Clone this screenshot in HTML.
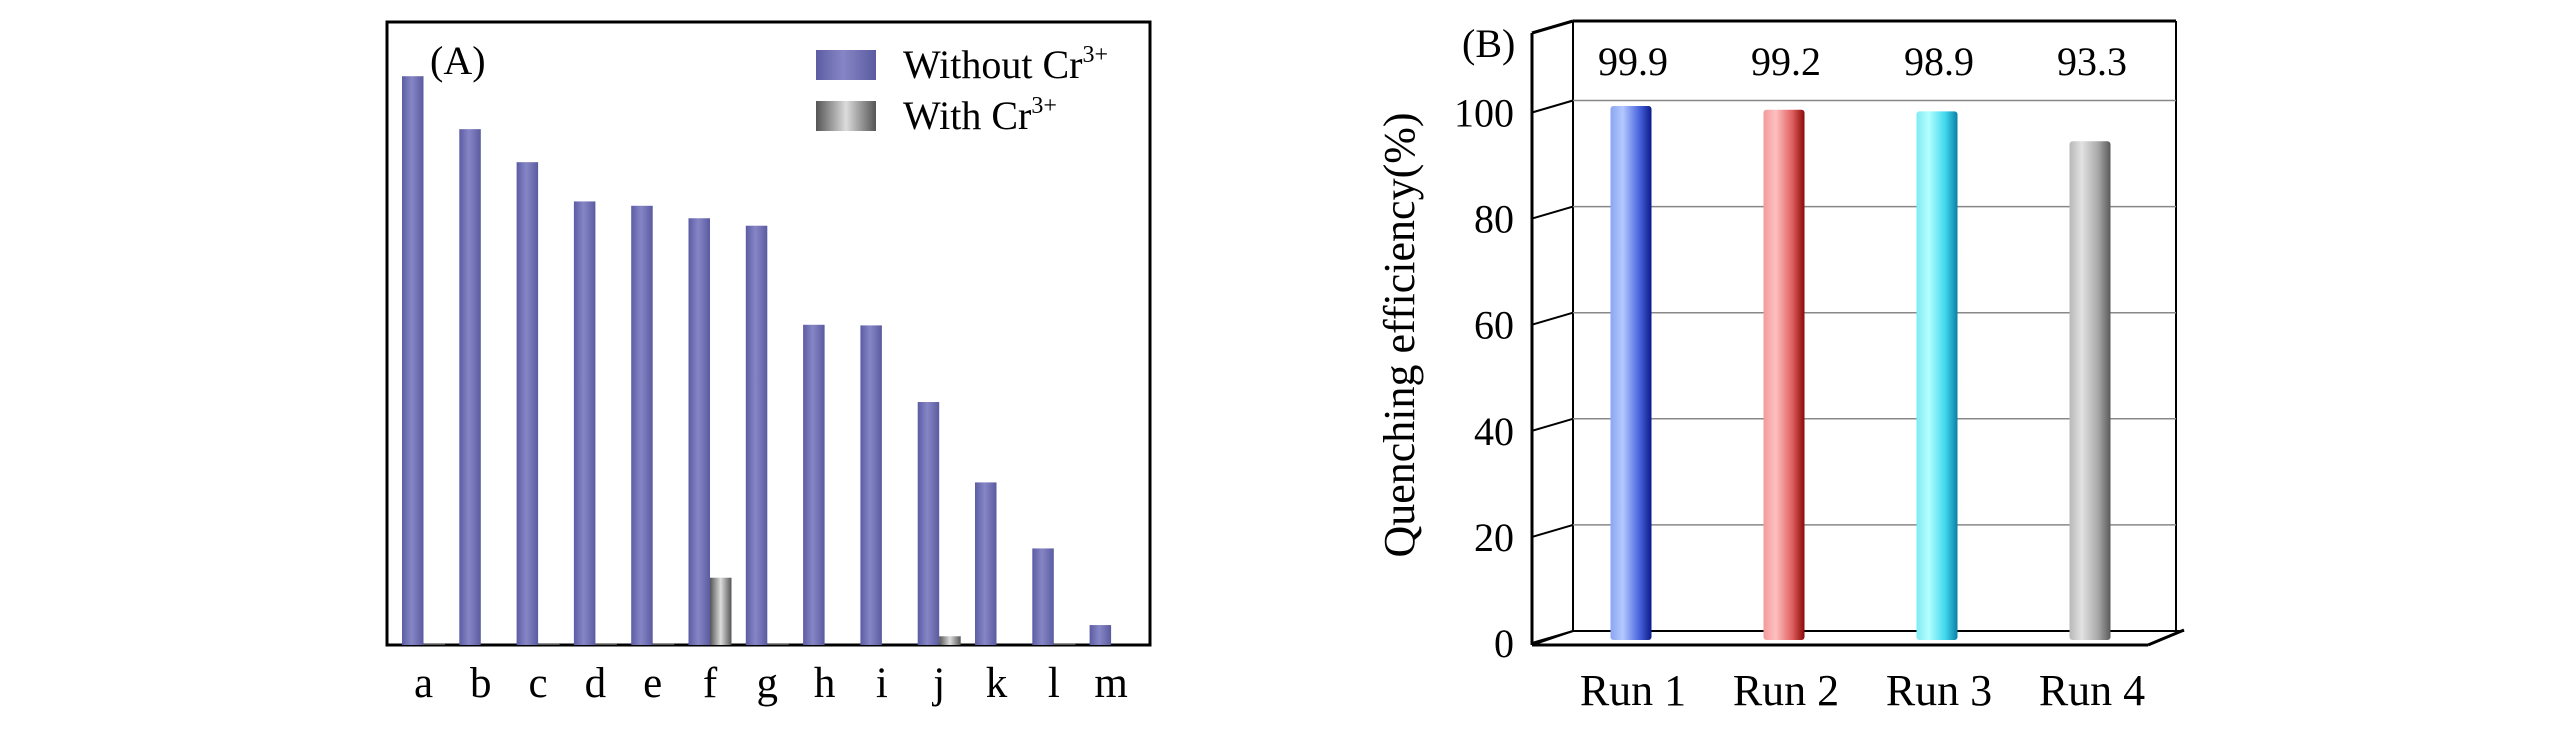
<!DOCTYPE html>
<html><head><meta charset="utf-8">
<style>
html,body{margin:0;padding:0;background:#fff;}
svg{display:block;font-family:"Liberation Serif",serif;}
</style></head>
<body>
<svg id="fig" width="2567" height="740" viewBox="0 0 2567 740" xmlns="http://www.w3.org/2000/svg">
<defs>
<linearGradient id="gPurple" x1="0" x2="1" y1="0" y2="0">
<stop offset="0" stop-color="#5c5ca4"/><stop offset="0.45" stop-color="#8686c6"/><stop offset="1" stop-color="#5a5aa0"/></linearGradient>
<linearGradient id="gGray" x1="0" x2="1" y1="0" y2="0">
<stop offset="0" stop-color="#555"/><stop offset="0.5" stop-color="#dcdcdc"/><stop offset="1" stop-color="#555"/></linearGradient>
<linearGradient id="gBlue" x1="0" x2="1"><stop offset="0" stop-color="#8aa6f0"/><stop offset="0.3" stop-color="#b4c8ff"/><stop offset="0.7" stop-color="#4a66dd"/><stop offset="1" stop-color="#0a1a8a"/></linearGradient>
<linearGradient id="gRed" x1="0" x2="1"><stop offset="0" stop-color="#f29a9a"/><stop offset="0.3" stop-color="#ffc0c0"/><stop offset="0.7" stop-color="#e06060"/><stop offset="1" stop-color="#8a0a0a"/></linearGradient>
<linearGradient id="gCyan" x1="0" x2="1"><stop offset="0" stop-color="#7eeaf4"/><stop offset="0.3" stop-color="#b4ffff"/><stop offset="0.7" stop-color="#40d8ee"/><stop offset="1" stop-color="#0a80a8"/></linearGradient>
<linearGradient id="gSilver" x1="0" x2="1"><stop offset="0" stop-color="#b8b8b8"/><stop offset="0.3" stop-color="#e2e2e2"/><stop offset="0.7" stop-color="#a8a8a8"/><stop offset="1" stop-color="#5a5a5a"/></linearGradient>
</defs>

<g id="panelA">
<rect x="387" y="22" width="763" height="623" fill="none" stroke="#000" stroke-width="3"/>
<text x="430" y="74" font-size="40">(A)</text>
<g>
<rect x="816" y="50" width="60" height="30" fill="url(#gPurple)"/>
<text x="903" y="78" font-size="40">Without Cr<tspan font-size="24" dy="-16">3+</tspan></text>
<rect x="816" y="101" width="60" height="30" fill="url(#gGray)"/>
<text x="903" y="129" font-size="40">With Cr<tspan font-size="24" dy="-16">3+</tspan></text>
</g>
<g id="barsA"></g>
<g id="labelsA"></g>
</g>

<g id="panelB">
<g id="frameB" stroke="#000" fill="none"></g>
<g id="gridB"></g>
<g id="barsB"></g>
<g id="labelsB"></g>
<text x="1462" y="57" font-size="40">(B)</text>
<text transform="translate(1414,335) rotate(-90)" text-anchor="middle" font-size="44">Quenching efficiency(%)</text>
</g>
</svg>
<script>
var NS="http://www.w3.org/2000/svg";
// ---- Panel A data ----
var catsA=["a","b","c","d","e","f","g","h","i","j","k","l","m"];
var withoutCr=[91.3,82.8,77.5,71.2,70.5,68.5,67.3,51.4,51.3,39.0,26.1,15.5,3.2];
var withCr=[0.2,0,0.2,0.2,0.2,10.8,0.2,0,0,1.4,0,0.2,0];
// ---- Panel B data ----
var runs=["Run 1","Run 2","Run 3","Run 4"];
var effs=[99.9,99.2,98.9,93.3];
var effLabels=["99.9","99.2","98.9","93.3"];
var ticksB=[0,20,40,60,80,100];

function mk(tag,attrs,parent){var e=document.createElementNS(NS,tag);for(var k in attrs)e.setAttribute(k,attrs[k]);parent.appendChild(e);return e;}

// Panel A axes
var aBase=645, aTop=22;
function yA(v){return aBase-v/100*(aBase-aTop);}
function xA(i){return 402+i*57.3;}
var barsA=document.getElementById('barsA'), labA=document.getElementById('labelsA');
catsA.forEach(function(c,i){
  var x=xA(i), w=21.5;
  var r=mk('rect',{x:x,y:yA(withoutCr[i]),width:w,height:aBase-yA(withoutCr[i]),fill:'url(#gPurple)'},barsA);
  
  
  var h=Math.max(aBase-yA(withCr[i]),0);
  var g=mk('rect',{x:x+w,y:aBase-h,width:w,height:h,fill:h>3?'url(#gGray)':'#555'},barsA);
  
  
  var t=mk('text',{x:x+w,y:697,'font-size':43,'text-anchor':'middle'},labA);
  t.textContent=c;
  
  
});

// Panel B axes
var fr=document.getElementById('frameB');
var off=12, dx=41;
function yBack(v){return 631-v/100*(631-100.5);}
function yBar(v){return 640-v/100*534.5;}
function xB(i){return 1631+i*153;}
var lines=[[1532,33,1532,645,3],[1532,645,2148,645,3],[2148,645,2184,630,3],[1532,33,1573,21,3],[1573,21,2176,21,3],[2176,21,2176,630,2],[1573,21,1573,631,2],[1573,631,2184,631,2],[1532,645,1573,631,2]];
lines.forEach(function(l,j){var e=mk('line',{x1:l[0],y1:l[1],x2:l[2],y2:l[3],'stroke-width':l[4]},fr);
  
  });
var gridB=document.getElementById('gridB'), labB=document.getElementById('labelsB');
ticksB.forEach(function(v){
  var y=yBack(v);
  if(v>0){var gl=mk('line',{x1:1573,y1:y,x2:2176,y2:y,stroke:'#888','stroke-width':1.5},gridB);
    
    }
  var tk=mk('line',{x1:1532,y1:y+off,x2:1573,y2:y,stroke:'#000','stroke-width':2},gridB);
  
  
  var t=mk('text',{x:1514,y:y+off+14,'font-size':40,'text-anchor':'end'},labB);
  t.textContent=v;
  
  
});
var fills=['url(#gBlue)','url(#gRed)','url(#gCyan)','url(#gSilver)'];
var barsB=document.getElementById('barsB');
runs.forEach(function(r,i){
  var cx=xB(i), w=41, top=yBar(effs[i]);
  var b=mk('rect',{x:cx-w/2,y:top,width:w,height:640-top,fill:fills[i],rx:3},barsB);
  
  
  var v=mk('text',{x:cx+2,y:75,'font-size':40,'text-anchor':'middle'},labB);
  v.textContent=effLabels[i];
  
  
  var t=mk('text',{x:cx+2,y:705,'font-size':44,'text-anchor':'middle'},labB);
  t.textContent=r;
  
  
});
</script>
</body></html>
